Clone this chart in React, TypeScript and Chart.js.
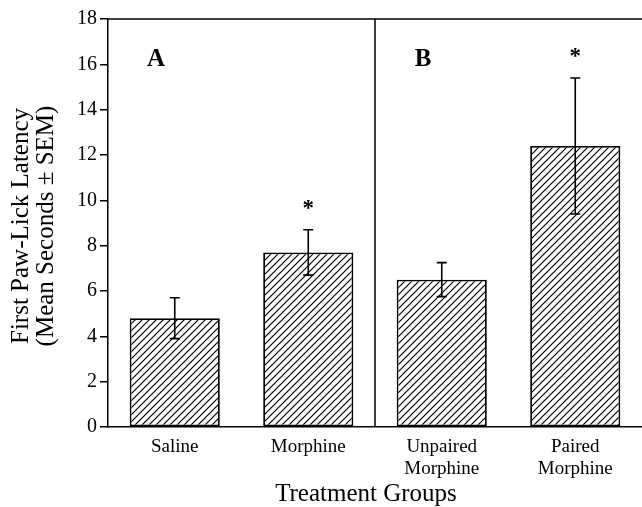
import React, { useEffect, useRef } from "react";
import { Chart, registerables } from "chart.js";

Chart.register(...registerables);

const categories: (string | string[])[] = ["Saline", "Morphine", ["Unpaired", "Morphine"], ["Paired", "Morphine"]];
const means = [4.8, 7.7, 6.5, 12.4];
const sems = [0.9, 1.0, 0.75, 3.0];
const significant = [false, true, false, true];
const panelLabels = ["A", "B"];
const yTitleLines = ["First Paw-Lick Latency", "(Mean Seconds \u00B1 SEM)"];
const xTitle = "Treatment Groups";

const SERIF = '"Liberation Serif", "Times New Roman", serif';

function makeHatch(ctx: CanvasRenderingContext2D): CanvasPattern | string {
  const c = document.createElement("canvas");
  const s = 7;
  c.width = s;
  c.height = s;
  const g = c.getContext("2d");
  if (!g) return "#fff";
  g.fillStyle = "#fff";
  g.fillRect(0, 0, s, s);
  g.strokeStyle = "#000";
  g.lineWidth = 1.2;
  g.beginPath();
  g.moveTo(0, s);
  g.lineTo(s, 0);
  g.moveTo(-1, 1);
  g.lineTo(1, -1);
  g.moveTo(s - 1, s + 1);
  g.lineTo(s + 1, s - 1);
  g.stroke();
  return ctx.createPattern(c, "repeat") || "#fff";
}

const annotationPlugin = {
  id: "annotations",
  afterDatasetsDraw(chart: any) {
    const ctx: CanvasRenderingContext2D = chart.ctx;
    const area = chart.chartArea;
    const yScale = chart.scales.y;
    const meta = chart.getDatasetMeta(0);
    ctx.save();
    ctx.strokeStyle = "#000";
    ctx.fillStyle = "#000";
    // top frame line and panel divider
    ctx.lineWidth = 1.5;
    ctx.beginPath();
    ctx.moveTo(area.left, area.top);
    ctx.lineTo(area.right, area.top);
    const mid = (meta.data[1].x + meta.data[2].x) / 2;
    ctx.moveTo(mid, area.top);
    ctx.lineTo(mid, area.bottom);
    ctx.stroke();

    // error bars
    ctx.lineWidth = 1.6;
    meta.data.forEach((bar: any, i: number) => {
      const x = bar.x;
      const yTop = yScale.getPixelForValue(means[i] + sems[i]);
      const yBot = yScale.getPixelForValue(means[i] - sems[i]);
      ctx.beginPath();
      ctx.moveTo(x, yTop);
      ctx.lineTo(x, yBot);
      ctx.moveTo(x - 5, yTop);
      ctx.lineTo(x + 5, yTop);
      ctx.moveTo(x - 5, yBot);
      ctx.lineTo(x + 5, yBot);
      ctx.stroke();
      if (significant[i]) {
        ctx.font = `bold 23px ${SERIF}`;
        ctx.textAlign = "center";
        ctx.textBaseline = "alphabetic";
        ctx.fillText("*", x, yTop - 15);
      }
    });

    // panel labels
    ctx.font = `bold 25px ${SERIF}`;
    ctx.textAlign = "center";
    ctx.textBaseline = "alphabetic";
    const panelStarts = [area.left, mid];
    panelLabels.forEach((lab, i) => {
      ctx.fillText(lab, panelStarts[i] + 48, yScale.getPixelForValue(16.3) + 8);
    });

    // x title
    ctx.font = `25px ${SERIF}`;
    ctx.textBaseline = "middle";
    ctx.fillText(xTitle, (area.left + area.right) / 2 - 9, 494);

    // y title
    ctx.translate(0, (area.top + area.bottom) / 2 + 3);
    ctx.rotate(-Math.PI / 2);
    ctx.font = `25px ${SERIF}`;
    ctx.fillText(yTitleLines[0], 0, 21);
    ctx.fillText(yTitleLines[1], 0, 46);
    ctx.restore();
  },
};

export default function App() {
  const ref = useRef<HTMLCanvasElement>(null);
  useEffect(() => {
    const canvas = ref.current;
    if (!canvas) return;
    const ctx = canvas.getContext("2d")!;
    const hatch = makeHatch(ctx);
    const chart = new Chart(canvas, {
      type: "bar",
      data: {
        labels: categories as any,
        datasets: [
          {
            data: means,
            backgroundColor: hatch as any,
            borderColor: "#000",
            borderWidth: 1.8,
            borderSkipped: false,
            categoryPercentage: 1,
            barPercentage: 0.675,
          },
        ],
      },
      options: {
        responsive: false,
        animation: false,
        devicePixelRatio: 1,
        layout: { padding: { top: 19, right: 0, left: 0, bottom: 0 } },
        plugins: { legend: { display: false }, tooltip: { enabled: false }, title: { display: false } },
        scales: {
          x: {
            grid: { display: false },
            border: { display: true, color: "#000", width: 1.5 },
            ticks: {
              color: "#000",
              font: { family: SERIF, size: 19, lineHeight: 1.16 },
              padding: 1,
              maxRotation: 0,
              autoSkip: false,
            },
            afterFit: (scale: any) => {
              scale.height = 80;
            },
          },
          y: {
            min: 0,
            max: 18,
            grid: {
              display: true,
              drawOnChartArea: false,
              drawTicks: true,
              tickLength: 8,
              color: "#000",
              lineWidth: 1.5,
            },
            border: { display: true, color: "#000", width: 1.5 },
            ticks: {
              stepSize: 2,
              color: "#000",
              font: { family: SERIF, size: 20 },
              padding: 3,
            },
            afterFit: (scale: any) => {
              scale.width = 108;
            },
          },
        },
      },
      plugins: [annotationPlugin],
    });
    return () => chart.destroy();
  }, []);
  return (
    <div style={{ position: "absolute", left: 0, top: 0, width: 642, height: 507, background: "#fff" }}>
      <canvas ref={ref} width={642} height={507} style={{ display: "block", width: 642, height: 507 }} />
    </div>
  );
}
